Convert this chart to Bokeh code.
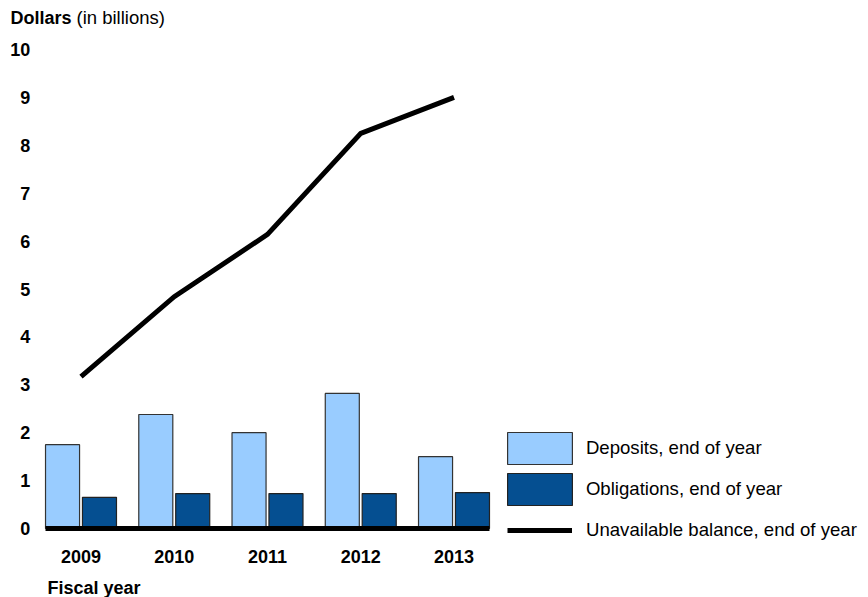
import numpy as np
from bokeh.plotting import figure
from bokeh.models import FixedTicker, Legend, LegendItem, Label, Range1d
from bokeh.embed import file_html
from bokeh.resources import INLINE

years = ["2009", "2010", "2011", "2012", "2013"]
deposits = [1.75, 2.38, 2.0, 2.82, 1.5]
obligations = [0.65, 0.73, 0.73, 0.73, 0.75]
unavailable = [3.17, 4.84, 6.14, 8.25, 9.0]
y_ticks = list(range(0, 11))

FONT = "Liberation Sans"
W, H = 868, 597

# bar / axis geometry (in category units)
BAR_W = 0.365
OFFSET = 0.198
X_LO, X_HI = -0.382, 4.382

x = np.arange(len(years))

p = figure(width=W, height=H, output_backend="svg", toolbar_location=None,
           title=None,
           x_range=Range1d(-0.8633, 8.445), y_range=Range1d(-1.4405, 11.023),
           min_border_left=0, min_border_right=0, min_border_top=0,
           min_border_bottom=0)
p.outline_line_color = None
p.xgrid.visible = False
p.ygrid.visible = False

dep = p.vbar(x=x - OFFSET, top=deposits, width=BAR_W, fill_color="#99CCFF",
             line_color="#333333", line_width=1.2)
obl = p.vbar(x=x + OFFSET, top=obligations, width=BAR_W, fill_color="#054F91",
             line_color="#222222", line_width=1.2)
ln = p.line(x, unavailable, line_color="black", line_width=5,
            line_join="miter")

xa = p.xaxis[0]
xa.fixed_location = 0
xa.bounds = (X_LO, X_HI)
xa.ticker = FixedTicker(ticks=[int(i) for i in x])
xa.major_label_overrides = {int(i): y for i, y in zip(x, years)}
xa.major_tick_out = 0
xa.major_tick_in = 0
xa.minor_tick_out = 0
xa.minor_tick_in = 0
xa.axis_line_color = "black"
xa.axis_line_width = 5
xa.major_label_standoff = 21
xa.major_label_text_font = FONT
xa.major_label_text_font_style = "bold"
xa.major_label_text_font_size = "18px"
xa.major_label_text_color = "black"

ya = p.yaxis[0]
ya.fixed_location = X_LO
ya.bounds = (0, 10)
ya.ticker = FixedTicker(ticks=y_ticks)
ya.axis_line_color = None
ya.major_tick_out = 0
ya.major_tick_in = 0
ya.minor_tick_out = 0
ya.minor_tick_in = 0
ya.major_label_standoff = 15
ya.major_label_text_font = FONT
ya.major_label_text_font_style = "bold"
ya.major_label_text_font_size = "18px"
ya.major_label_text_color = "black"

p.add_layout(Label(x=10, y=H - 17, x_units="screen", y_units="screen",
                   text="Dollars", text_font=FONT, text_font_style="bold",
                   text_font_size="18px", text_baseline="alphabetic",
                   text_color="black"))
p.add_layout(Label(x=76, y=H - 17, x_units="screen", y_units="screen",
                   text="(in billions)", text_font=FONT,
                   text_font_size="18.5px", text_baseline="alphabetic",
                   text_color="black"))
p.add_layout(Label(x=47, y=H - 587, x_units="screen", y_units="screen",
                   text="Fiscal year", text_font=FONT, text_font_style="bold",
                   text_font_size="18px", text_baseline="alphabetic",
                   text_color="black"))

common = dict(padding=0, margin=0, border_line_color=None,
              background_fill_alpha=0, label_text_font=FONT,
              label_text_font_size="18.6px", label_text_color="black")

# bar swatches are drawn with a 10% inset, so the glyph area is enlarged
bar_legend = Legend(items=[
    LegendItem(label="Deposits, end of year", renderers=[dep]),
    LegendItem(label="Obligations, end of year", renderers=[obl]),
], location=(498.9, H - 509), glyph_width=81, glyph_height=40,
    label_height=40, spacing=1, label_standoff=6, **common)
line_legend = Legend(items=[
    LegendItem(label="Unavailable balance, end of year", renderers=[ln]),
], location=(507, H - 545.5), glyph_width=65, glyph_height=32,
    label_height=32, spacing=0, label_standoff=14, **common)
p.add_layout(bar_legend)
p.add_layout(line_legend)

open("out.html", "w").write(file_html(p, INLINE))
